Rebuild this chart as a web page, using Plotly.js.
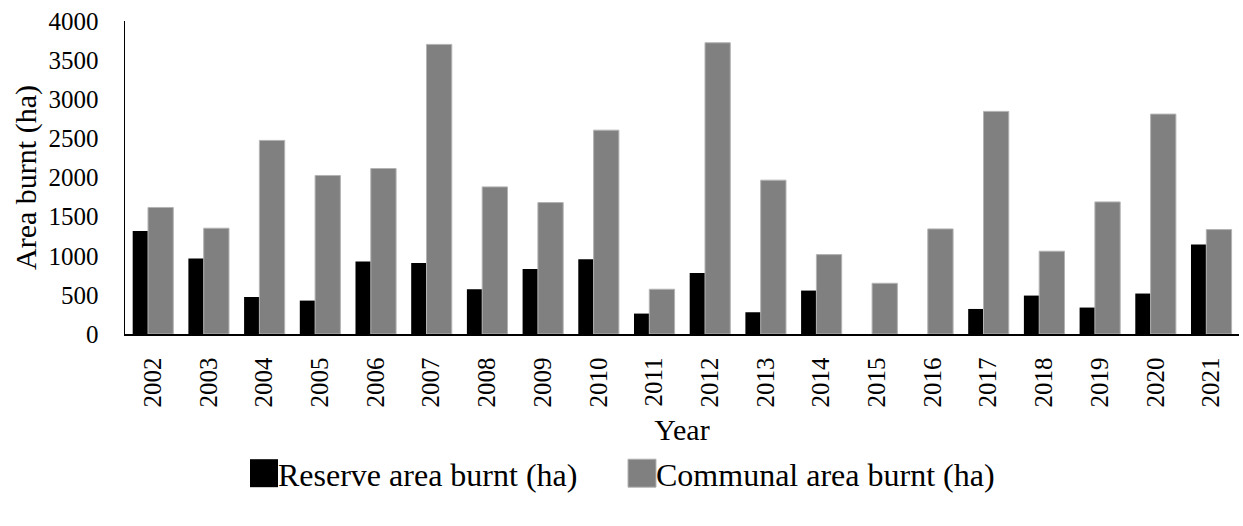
<!DOCTYPE html>
<html>
<head>
<meta charset="utf-8">
<script src="https://cdn.plot.ly/plotly-3.0.1.min.js"></script>
<style>html,body{margin:0;padding:0;background:#fff;}#chart{width:1243px;height:526px;}</style>
</head>
<body>
<div id="chart"></div>
<script>
const years = ['2002','2003','2004','2005','2006','2007','2008','2009','2010','2011','2012','2013','2014','2015','2016','2017','2018','2019','2020','2021'];
const reserveBurnt = [1317, 964, 473, 427, 926, 908, 572, 831, 955, 261, 780, 278, 555, 0, 0, 320, 491, 338, 517, 1144];
const communalBurnt = [1617, 1352, 2474, 2026, 2115, 3701, 1880, 1680, 2605, 572, 3722, 1966, 1015, 648, 1343, 2845, 1058, 1688, 2810, 1335];
const yTicks = [0, 500, 1000, 1500, 2000, 2500, 3000, 3500, 4000];

const serif = 'Liberation Serif';

const data = [
  {
    type: 'bar', name: 'Reserve area burnt (ha)', x: years, y: reserveBurnt,
    offset: -0.362, width: 0.282,
    marker: {color: '#000000', line: {width: 0}}
  },
  {
    type: 'bar', name: 'Communal area burnt (ha)', x: years, y: communalBurnt,
    offset: -0.087, width: 0.454,
    marker: {color: '#808080', line: {color: '#b3b3b3', width: 1}}
  }
];

const layout = {
  width: 1243, height: 526,
  margin: {l: 125, r: 4, t: 21, b: 192, pad: 0},
  paper_bgcolor: '#ffffff', plot_bgcolor: '#ffffff',
  font: {family: serif, color: '#000000', size: 25},
  barmode: 'overlay',
  showlegend: true,
  legend: {
    orientation: 'h', xref: 'container', yref: 'container',
    x: 238 / 1243, xanchor: 'left', y: 0.1, yanchor: 'middle',
    entrywidth: 333, entrywidthmode: 'pixels',
    font: {family: serif, size: 32, color: '#000'},
    traceorder: 'normal', itemclick: false
  },
  xaxis: {
    type: 'category', range: [-0.5, 19.5],
    tickangle: -90, ticks: '', showgrid: false, zeroline: false,
    showline: true, linecolor: '#000', linewidth: 1.5,
    tickfont: {family: serif, size: 25, color: '#000'},
    ticklabelstandoff: 12,
    title: {text: 'Year', font: {family: serif, size: 30, color: '#000'}, standoff: 14},
    automargin: false, fixedrange: true
  },
  yaxis: {
    range: [0, 4000], tickvals: yTicks, ticktext: yTicks.map(String),
    ticks: '', showgrid: false, zeroline: false,
    showline: true, linecolor: '#000', linewidth: 1.5,
    tickfont: {family: serif, size: 25, color: '#000'},
    ticklabelstandoff: 20,
    title: {text: 'Area burnt (ha)', font: {family: serif, size: 30, color: '#000'}, standoff: 3},
    automargin: false, fixedrange: true
  }
};

Plotly.newPlot('chart', data, layout, {displayModeBar: false, staticPlot: true}).then(function(gd){
  // enlarge the legend swatches to the square size used in the reference
  gd.querySelectorAll('.legend .legendpoints path').forEach(function(p){
    p.setAttribute('d', 'M20,14H-8V-14H20Z');
  });
});
</script>
</body>
</html>
